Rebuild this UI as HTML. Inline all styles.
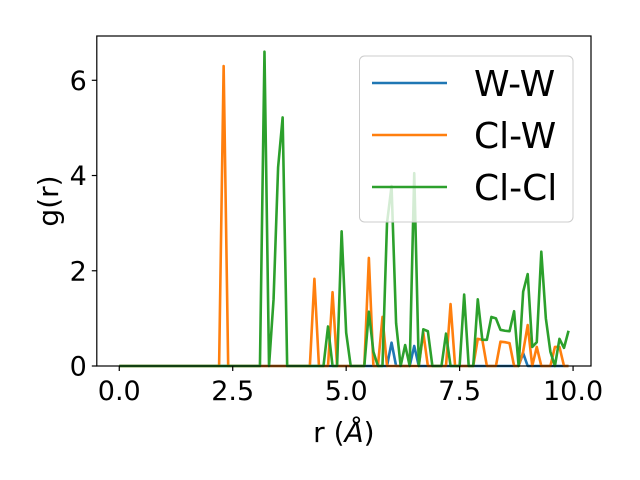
<!DOCTYPE html>
<html><head><meta charset="utf-8"><style>
body{margin:0;background:#fff;}
svg{display:block;font-family:"DejaVu Sans","Liberation Sans",sans-serif;}
</style></head><body>
<svg id="chart" width="640" height="480" xmlns="http://www.w3.org/2000/svg">
<g id="plot"></g>
</svg>
<script>
const rValues = Array.from({length:100},(_,i)=>+(i/10).toFixed(1));
const seriesNames = ["W-W","Cl-W","Cl-Cl"];
const seriesColors = ["#1f77b4","#ff7f0e","#2ca02c"];
// sparse nonzero values: [r, g]
const wwPoints = [[6.0,0.49],[6.5,0.42],[8.9,0.27]];
const clwPoints = [[2.3,6.3],[4.3,1.83],[4.7,1.55],[5.5,2.27],[5.8,1.03],[6.7,0.7],[7.3,1.3],[7.9,0.57],[8.0,0.55],[8.4,0.51],[8.5,0.5],[8.6,0.48],[8.9,0.3],[9.0,0.86],[9.2,0.4],[9.6,0.4],[9.7,0.4]];
const clclPoints = [[3.2,6.6],[3.4,1.4],[3.5,4.17],[3.6,5.22],[4.6,0.83],[4.9,2.83],[5.0,0.7],[5.5,1.14],[5.6,0.3],[5.9,3.0],[6.0,3.78],[6.1,0.9],[6.3,0.44],[6.5,4.05],[6.7,0.77],[6.8,0.73],[7.2,0.68],[7.6,1.5],[7.9,1.4],[8.0,0.55],[8.1,0.55],[8.2,1.03],[8.3,1.0],[8.4,0.76],[8.5,0.74],[8.6,0.73],[8.7,1.15],[8.9,1.56],[9.0,1.93],[9.1,0.4],[9.2,0.5],[9.3,2.4],[9.4,1.0],[9.5,0.3],[9.7,0.57],[9.8,0.38],[9.9,0.74]];
const xTicks = [0,2.5,5,7.5,10];
const xTickLabels = ["0.0","2.5","5.0","7.5","10.0"];
const yTicks = [0,2,4,6];
const yTickLabels = ["0","2","4","6"];

const L=96.8,R=591,T=36,B=366;
const xMin=-0.495,xMax=10.395,yMin=0,yMax=6.93;
const X=v=>L+(v-xMin)/(xMax-xMin)*(R-L);
const Y=v=>B-(v-yMin)/(yMax-yMin)*(B-T);
const NS="http://www.w3.org/2000/svg";
const plot=document.getElementById('plot');
function mk(tag,attrs,parent){const e=document.createElementNS(NS,tag);for(const k in attrs)e.setAttribute(k,attrs[k]);(parent||plot).appendChild(e);return e;}
function full(points){const m=new Map(points.map(p=>[p[0].toFixed(1),p[1]]));return rValues.map(r=>[r,m.get(r.toFixed(1))||0]);}
const allSeries=[wwPoints,clwPoints,clclPoints];
allSeries.forEach((pts,i)=>{
  const d=full(pts).map((p,j)=>(j?'L':'M')+X(p[0]).toFixed(2)+' '+Y(p[1]).toFixed(2)).join(' ');
  const p=mk('path',{d:d,fill:'none',stroke:seriesColors[i],'stroke-width':2.6,'stroke-linejoin':'round'});
  
  
});
const frame=mk('rect',{x:L,y:T,width:R-L,height:B-T,fill:'none',stroke:'#000','stroke-width':1.2});


xTicks.forEach((v,i)=>{
  mk('line',{x1:X(v),x2:X(v),y1:B,y2:B+5,stroke:'#000','stroke-width':1.2});
  const t=mk('text',{x:X(v),y:B+34,'font-size':27,'text-anchor':'middle',fill:'#000'});
  t.textContent=xTickLabels[i];
  
  
});
yTicks.forEach((v,i)=>{
  mk('line',{x1:L-5,x2:L,y1:Y(v),y2:Y(v),stroke:'#000','stroke-width':1.2});
  const t=mk('text',{x:L-10,y:Y(v)+9.5,'font-size':27,'text-anchor':'end',fill:'#000'});
  t.textContent=yTickLabels[i];
  
  
});
const xt=mk('text',{x:(L+R)/2,y:442,'font-size':28,'text-anchor':'middle',fill:'#000'});
xt.innerHTML='r (<tspan font-style="italic">Å</tspan>)';


const yt=mk('text',{x:0,y:0,'font-size':28,'text-anchor':'middle',fill:'#000',transform:'translate(58,201) rotate(-90)'});
yt.textContent='g(r)';


const lg=mk('g',{});


mk('rect',{x:359.5,y:56,width:213.5,height:166,rx:5,fill:'rgba(255,255,255,0.8)',stroke:'#ccc','stroke-width':1},lg);
seriesNames.forEach((n,i)=>{
  const yy=83+i*52;
  mk('line',{x1:372,x2:447,y1:yy,y2:yy,stroke:seriesColors[i],'stroke-width':2.6},lg);
  const t=mk('text',{x:474,y:yy+13,'font-size':36,fill:'#000'},lg);
  t.textContent=n;
  
  
});
</script>
</body></html>
